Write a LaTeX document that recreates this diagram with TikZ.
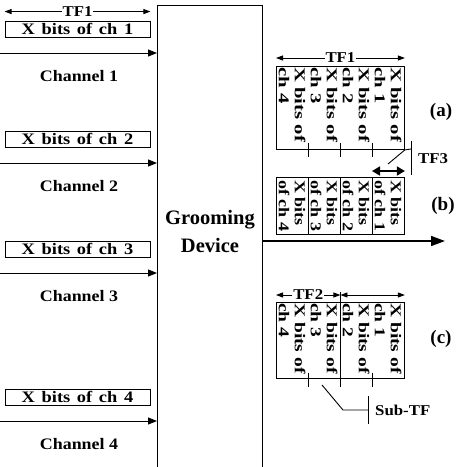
\documentclass[tikz,border=0pt]{standalone}
\usepackage{fontspec}
\setmainfont{Liberation Serif}
\newfontfamily\boxfam{Liberation Serif}[FakeStretch=1.15,WordSpace=1.45]
\newfontfamily\widefam{Liberation Serif}[FakeStretch=1.12]
\usetikzlibrary{arrows.meta,calc,positioning}
\newcommand\lblfont{\boxfam\fontsize{16}{16}\selectfont\bfseries}
\newcommand\chfont{\widefam\fontsize{16}{16}\selectfont\bfseries}
\newcommand\devfont{\fontsize{20.5}{28}\selectfont\bfseries}
\newcommand\tagfont{\fontsize{19}{19}\selectfont\bfseries}
\newcommand\tffont{\widefam\fontsize{15}{15}\selectfont\bfseries}
\newcommand\colfont{\fontsize{15}{16}\selectfont\bfseries}
\tikzset{
  bitbox/.style={draw,line width=0.9pt,minimum width=145pt,minimum height=16pt,
    inner sep=0pt,font=\lblfont},
  chlab/.style={font=\chfont,inner sep=0pt},
  chan/.style={-{Triangle[length=9pt,width=7pt]},line width=0.9pt},
  span/.style={{Triangle[length=7pt,width=5pt]}-{Triangle[length=7pt,width=5pt]},line width=0.9pt},
  fatspan/.style={{Triangle[length=8pt,width=9pt]}-{Triangle[length=8pt,width=9pt]},line width=1.6pt},
  tfbox/.style={draw,line width=0.9pt,minimum width=128pt,minimum height=83pt,
    inner sep=0pt,anchor=north west},
  vtext/.style={rotate=-90,anchor=west,align=left,inner sep=0pt,font=\colfont},
  tag/.style={font=\tagfont,inner sep=0pt},
  tflab/.style={font=\tffont,fill=white,inner sep=1pt},
  outarr/.style={-{Triangle[length=14pt,width=10pt]},line width=1.6pt},
}
\begin{document}
\begin{tikzpicture}[x=1pt,y=-1pt]
  \useasboundingbox (0,0) rectangle (462,467);
  % grooming device
  \node[draw,line width=0.9pt,minimum width=105pt,minimum height=480pt,anchor=north west,inner sep=0pt]
    (gdev) at (157,5) {};
  \node[font=\devfont,align=center] (gtxt) at (210,231) {Grooming\\Device};
  % input channels
  \foreach \k/\t in {1/29,2/139,3/249,4/397} {
    \node[bitbox] (bx\k) at (77.5,\t) {X bits of ch \k};
    \coordinate (s\k) at (0,\t+24);
    \draw[chan] (s\k) -- (s\k -| gdev.west);
    \node[chlab] (ch\k) at (79,\t+47) {Channel \k};
  }
  \draw[span] ($(bx1.north west)+(0,-9)$) -- node[tflab] {TF1} ($(bx1.north east)+(0,-9)$);
  % output
  \coordinate (out) at (445,241);
  \draw[outarr] (out -| gdev.east) -- (out);
  % frame (a)
  \node[tfbox] (fa) at (276,66) {};
  \draw[span] ($(fa.north west)+(0,-8)$) -- node[tflab] {TF1} ($(fa.north east)+(0,-8)$);
  \foreach \k/\c in {0/4,1/3,2/2,3/1}
    \node[vtext,xscale=1.38] at ($(fa.north west)+(16+32*\k,1)$) {X bits of\\ch \c};
  \foreach \k in {1,2,3}
    \draw[line width=0.9pt] ($(fa.south west)+(32*\k,-7)$) -- ++(0,14);
  \node[tag] (la) at (441,112) {(a)};
  % TF3 callout
  \coordinate (t3) at (411,149);
  \draw[line width=0.9pt] (411,141) -- (411,175);
  \draw[line width=0.9pt] (t3) -- (fa.south east) -- (388,164);
  \node[font=\tffont,anchor=west,inner sep=0pt] (tf3) at (418,159) {TF3};
  % frame (b)
  \node[tfbox,minimum height=57pt] (fb) at (276,177) {};
  \draw[fatspan] ($(fb.north west)+(96,-6)$) -- ($(fb.north east)+(0,-6)$);
  \foreach \k in {1,2,3}
    \draw[line width=0.9pt] ($(fb.north west)+(32*\k,0)$) -- ($(fb.south west)+(32*\k,0)$);
  \foreach \k/\c in {0/4,1/3,2/2,3/1}
    \node[vtext,xscale=1.2] at ($(fb.north west)+(16+32*\k,3)$) {X bits\\of ch \c};
  \node[tag] (lb) at (443,206) {(b)};
  % frame (c)
  \node[tfbox,minimum height=76pt] (fc) at (276,302) {};
  \draw[span] ($(fc.north west)+(0,-7)$) -- node[tflab] {TF2} ($(fc.north)+(0,-7)$);
  \draw[span] ($(fc.north)+(0,-7)$) -- ($(fc.north east)+(0,-7)$);
  \foreach \k/\c in {0/4,1/3,2/2,3/1}
    \node[vtext,xscale=1.3] at ($(fc.north west)+(16+32*\k,1)$) {X bits of\\ch \c};
  \draw[line width=0.9pt] ($(fc.north)+(0,-10)$) -- ($(fc.south)+(0,8)$);
  \foreach \k in {1,3}
    \draw[line width=0.9pt] ($(fc.south west)+(32*\k,-6)$) -- ++(0,14);
  \node[tag] (lc) at (441,339) {(c)};
  % Sub-TF callout
  \coordinate (sub) at (368,410);
  \draw[line width=0.9pt] (322,385) -- (343,410) -- (sub);
  \draw[line width=0.9pt] (368,396) -- (368,424);
  \node[font=\tffont,anchor=west,inner sep=0pt] (subtf) at (375,410) {Sub-TF};
\end{tikzpicture}
\end{document}
